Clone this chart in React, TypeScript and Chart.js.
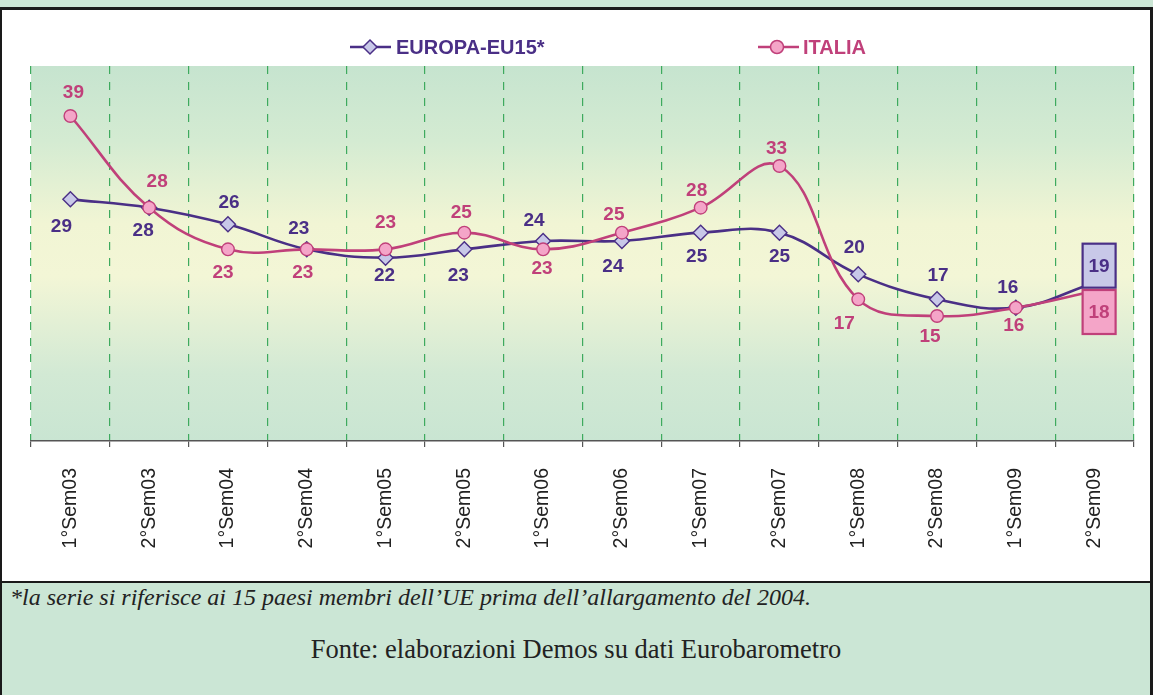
import React, { useEffect, useRef } from "react";
import { Chart, registerables } from "chart.js";

Chart.register(...registerables);

// ---------- DATA ----------
const categories = [
  "1°Sem03", "2°Sem03", "1°Sem04", "2°Sem04", "1°Sem05", "2°Sem05", "1°Sem06",
  "2°Sem06", "1°Sem07", "2°Sem07", "1°Sem08", "2°Sem08", "1°Sem09", "2°Sem09",
];
const europaEU15 = [29, 28, 26, 23, 22, 23, 24, 24, 25, 25, 20, 17, 16, 19];
const italia = [39, 28, 23, 23, 23, 25, 23, 25, 28, 33, 17, 15, 16, 18];
const seriesNames = ["EUROPA-EU15*", "ITALIA"];
const yMin = 0;
const yMax = 45;

// ---------- STYLE ----------
const EU_COLOR = "#4a2f86";
const EU_FILL = "#c8c8e8";
const IT_COLOR = "#c0407a";
const IT_FILL = "#f4a5c8";
const SANS = '"Liberation Sans", Arial, sans-serif';
const SERIF = '"Liberation Serif", "Times New Roman", serif';

// label offsets (dx, dy) relative to each point, in px
const euLabelOffsets = [
  [-9, 27], [-6, 23], [1, -22], [-8, -21], [-1, 18], [-6, 26], [-9, -20],
  [-9, 26], [-4, 24], [0, 24], [-4, -27], [1, -24], [-8, -20],
];
const itLabelOffsets = [
  [3, -23], [8, -26], [-5, 23], [-4, 23], [0, -27], [-3, -20], [-1, 19],
  [-8, -18], [-4, -17], [-3, -17], [-14, 24], [-7, 21], [-2, 18],
];

const overlayPlugin = {
  id: "overlay",
  beforeDraw(chart: any) {
    const { ctx, chartArea } = chart;
    const { left, top, right, bottom } = chartArea;
    const g = ctx.createLinearGradient(0, top, 0, bottom);
    g.addColorStop(0, "#c6e4cf");
    g.addColorStop(0.2, "#d4ebd2");
    g.addColorStop(0.42, "#f1f5d4");
    g.addColorStop(0.56, "#f3f6d6");
    g.addColorStop(0.82, "#d2e9d4");
    g.addColorStop(1, "#c9e5d2");
    ctx.save();
    ctx.fillStyle = g;
    ctx.fillRect(left, top, right - left, bottom - top);
    ctx.restore();
  },
  afterDatasetsDraw(chart: any) {
    const { ctx } = chart;
    const itMeta = chart.getDatasetMeta(0);
    const euMeta = chart.getDatasetMeta(1);
    ctx.save();
    ctx.font = `bold 19px ${SANS}`;
    ctx.textAlign = "center";
    ctx.textBaseline = "middle";
    const last = categories.length - 1;
    const drawLabels = (meta: any, values: number[], offs: number[][], color: string) => {
      ctx.fillStyle = color;
      for (let i = 0; i < last; i++) {
        const p = meta.data[i];
        const o = offs[i] || [0, -22];
        ctx.fillText(String(values[i]), p.x + o[0], p.y + o[1]);
      }
    };
    drawLabels(euMeta, europaEU15, euLabelOffsets, EU_COLOR);
    drawLabels(itMeta, italia, itLabelOffsets, IT_COLOR);

    // end boxes
    const bw = 33;
    const bh = 44;
    const pe = euMeta.data[last];
    const pi = itMeta.data[last];
    const drawBox = (x: number, y: number, fill: string, stroke: string, txt: string) => {
      ctx.fillStyle = fill;
      ctx.fillRect(x, y, bw, bh);
      ctx.lineWidth = 2.2;
      ctx.strokeStyle = stroke;
      ctx.strokeRect(x, y, bw, bh);
      ctx.fillStyle = stroke;
      ctx.fillText(txt, x + bw / 2, y + bh / 2 + 1);
    };
    drawBox(pe.x - 12, pe.y - 39, EU_FILL, EU_COLOR, String(europaEU15[last]));
    drawBox(pi.x - 12, pi.y - 1, IT_FILL, IT_COLOR, String(italia[last]));
    ctx.restore();
  },
  afterDraw(chart: any) {
    const { ctx } = chart;
    ctx.save();
    const y = 37;
    ctx.font = `bold 20px ${SANS}`;
    ctx.textBaseline = "middle";
    ctx.textAlign = "left";
    // EU
    ctx.lineWidth = 2.5;
    ctx.strokeStyle = EU_COLOR;
    ctx.beginPath();
    ctx.moveTo(348, y);
    ctx.lineTo(389, y);
    ctx.stroke();
    ctx.beginPath();
    ctx.moveTo(368 - 7, y);
    ctx.lineTo(368, y - 7);
    ctx.lineTo(368 + 7, y);
    ctx.lineTo(368, y + 7);
    ctx.closePath();
    ctx.fillStyle = EU_FILL;
    ctx.fill();
    ctx.lineWidth = 1.5;
    ctx.stroke();
    ctx.fillStyle = EU_COLOR;
    ctx.fillText(seriesNames[0], 394, y + 1);
    // IT
    ctx.lineWidth = 2.5;
    ctx.strokeStyle = IT_COLOR;
    ctx.beginPath();
    ctx.moveTo(756, y);
    ctx.lineTo(797, y);
    ctx.stroke();
    ctx.beginPath();
    ctx.arc(775, y, 6.5, 0, Math.PI * 2);
    ctx.fillStyle = IT_FILL;
    ctx.fill();
    ctx.lineWidth = 1.5;
    ctx.stroke();
    ctx.fillStyle = IT_COLOR;
    ctx.fillText(seriesNames[1], 801, y + 1);
    ctx.restore();
  },
};

function ChartBox() {
  const ref = useRef<HTMLCanvasElement | null>(null);
  useEffect(() => {
    if (!ref.current) return;
    const last = categories.length - 1;
    const radii = (r: number) => categories.map((_, i) => (i === last ? 0 : r));
    const chart = new Chart(ref.current, {
      type: "line",
      data: {
        labels: categories,
        datasets: [
          {
            label: seriesNames[1],
            data: italia,
            borderColor: IT_COLOR,
            borderWidth: 2.6,
            backgroundColor: IT_FILL,
            pointBackgroundColor: IT_FILL,
            pointBorderColor: IT_COLOR,
            pointBorderWidth: 1.4,
            pointStyle: "circle",
            pointRadius: radii(6.3),
            tension: 0.4,
            fill: false,
          },
          {
            label: seriesNames[0],
            data: europaEU15,
            borderColor: EU_COLOR,
            borderWidth: 2.6,
            backgroundColor: EU_FILL,
            pointBackgroundColor: EU_FILL,
            pointBorderColor: EU_COLOR,
            pointBorderWidth: 1.4,
            pointStyle: "rectRot",
            pointRadius: radii(7.5),
            tension: 0.4,
            fill: false,
          },
        ],
      },
      options: {
        animation: false,
        responsive: false,
        maintainAspectRatio: false,
        layout: { padding: { left: 29, right: 16, top: 56, bottom: 0 } },
        plugins: { legend: { display: false }, tooltip: { enabled: false } },
        scales: {
          x: {
            type: "category",
            offset: true,
            grid: {
              offset: true,
              color: "#3eaa5e",
              lineWidth: 1.2,
              drawTicks: true,
              tickLength: 6,
              tickColor: "#555555",
              tickWidth: 1.2,
              tickBorderDash: [],
            },
            border: { display: true, color: "#555555", width: 1.5, dash: [8, 8] },
            ticks: {
              minRotation: 90,
              maxRotation: 90,
              autoSkip: false,
              padding: 21,
              color: "#222222",
              font: { family: SANS, size: 19.5 },
            },
            afterFit: (s: any) => {
              s.height = 140;
            },
          },
          y: { display: false, min: yMin, max: yMax },
        },
      },
      plugins: [overlayPlugin],
    } as any);
    return () => chart.destroy();
  }, []);
  return (
    <canvas
      ref={ref}
      width={1148}
      height={571}
      style={{ position: "absolute", left: 2, top: 10, width: 1148, height: 571 }}
    />
  );
}

export default function App() {
  return (
    <div style={{ position: "absolute", left: 0, top: 0, width: 1155, height: 695, background: "#ffffff", overflow: "hidden" }}>
      <div style={{ position: "absolute", left: 0, top: 0, width: 1153, height: 7, background: "#cbe6d5" }} />
      <div
        style={{
          position: "absolute", left: 0, top: 7, width: 1153, height: 688, boxSizing: "border-box",
          borderTop: "3px solid #1a1a1a", borderLeft: "2px solid #1a1a1a", borderRight: "3px solid #1a1a1a",
          background: "#ffffff",
        }}
      />
      <div style={{ position: "absolute", left: 0, top: 581, width: 1153, height: 2, background: "#1a1a1a" }} />
      <div style={{ position: "absolute", left: 2, top: 583, width: 1148, height: 112, background: "#cbe6d5" }} />
      <ChartBox />
      <div
        style={{
          position: "absolute", left: 10, top: 583, fontFamily: SERIF, fontStyle: "italic", fontSize: 24,
          color: "#222222", whiteSpace: "nowrap", lineHeight: "28px",
        }}
      >
        *la serie si riferisce ai 15 paesi membri dell’UE prima dell’allargamento del 2004.
      </div>
      <div
        style={{
          position: "absolute", left: 2, width: 1148, top: 634, textAlign: "center", fontFamily: SERIF,
          fontSize: 26.5, color: "#222222", whiteSpace: "nowrap", lineHeight: "30px",
        }}
      >
        Fonte: elaborazioni Demos su dati Eurobarometro
      </div>
    </div>
  );
}
